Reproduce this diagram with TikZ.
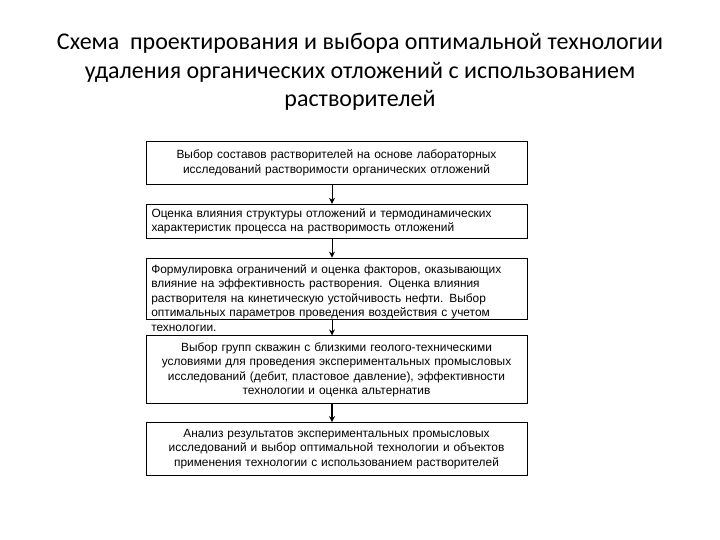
\documentclass[tikz,border=0pt]{standalone}
\usepackage{fontspec}
\setmainfont{Liberation Sans}
\newfontfamily\titlefont{Carlito}
\usetikzlibrary{arrows.meta, positioning, calc}

\begin{document}
\begin{tikzpicture}[
    x=1pt, y=-1pt,
    node distance=19pt,
    process/.style={rectangle, draw, line width=0.8pt, minimum width=381pt, text width=370pt, inner xsep=5.5pt, inner ysep=0pt, font=\fontsize{11.9}{14.6}\selectfont},
    heading/.style={align=center, font=\titlefont\fontsize{24}{28.5}\selectfont},
    arrow/.style={-{Stealth[length=6pt,width=6pt]}, line width=0.9pt}
]
\useasboundingbox (0,0) rectangle (720,540);

\node[heading] (title) at (360,72) {Схема\ \ проектирования и выбора оптимальной технологии\\удаления органических отложений с использованием\\растворителей};

\node[process, align=center, minimum height=43pt, anchor=north] (lab) at (336.5,141) {Выбор составов растворителей на основе лабораторных\\исследований растворимости органических отложений};
\node[process, align=left, minimum height=34pt, below=19pt of lab] (struct) {Оценка влияния структуры отложений и термодинамических\\характеристик процесса на растворимость отложений};
\node[process, minimum height=61pt, below=19pt of struct] (limits) {};
\node[anchor=north west, inner xsep=5.5pt, inner ysep=6.5pt, text width=370pt, align=left, font=\fontsize{11.9}{14.6}\selectfont] (limits-text) at (limits.north west) {Формулировка ограничений и оценка факторов, оказывающих\\влияние на эффективность растворения. Оценка влияния\\растворителя на кинетическую устойчивость нефти. Выбор\\оптимальных параметров проведения воздействия с учетом\\технологии.};
\node[process, align=center, minimum height=68pt, below=16pt of limits] (wells) {Выбор групп скважин с близкими геолого-техническими\\условиями для проведения экспериментальных промысловых\\исследований (дебит, пластовое давление), эффективности\\технологии и оценка альтернатив};
\node[process, align=center, minimum height=53pt, below=18pt of wells] (result) {Анализ результатов экспериментальных промысловых\\исследований и выбор оптимальной технологии и объектов\\применения технологии с использованием растворителей};

\draw[arrow] ([xshift=-4.5pt]lab.south) -- ([xshift=-4.5pt]struct.north);
\draw[arrow] ([xshift=-4.5pt]struct.south) -- ([xshift=-4.5pt]limits.north);
\draw[arrow] ([xshift=-4.5pt]limits.south) -- ([xshift=-4.5pt]wells.north);
\draw[arrow, line width=1.8pt] ([xshift=-4.5pt]wells.south) -- ([xshift=-4.5pt]result.north);

\end{tikzpicture}
\end{document}
